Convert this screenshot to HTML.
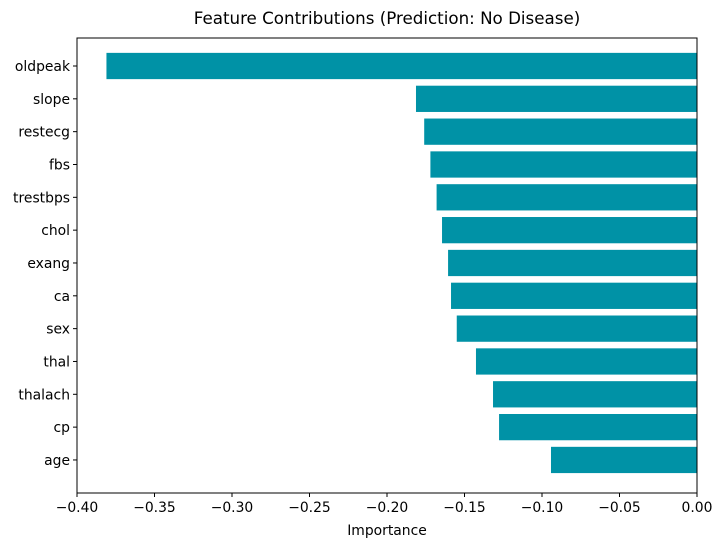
<!DOCTYPE html>
<html><head><meta charset="utf-8"><style>
body{margin:0;background:#fff;font-family:"Liberation Sans","DejaVu Sans",sans-serif;}
</style></head><body>
<svg id="chart" width="722" height="547" xmlns="http://www.w3.org/2000/svg" font-family="DejaVu Sans, Liberation Sans, sans-serif">
<text x="387" y="24" text-anchor="middle" font-size="16.7" fill="#000">Feature Contributions (Prediction: No Disease)</text>
<text x="387" y="535" text-anchor="middle" font-size="13.9" fill="#000">Importance</text>
</svg>
<script>
const features = ["oldpeak","slope","restecg","fbs","trestbps","chol","exang","ca","sex","thal","thalach","cp","age"];
const values = [-0.381,-0.1813,-0.176,-0.172,-0.168,-0.1645,-0.1606,-0.1587,-0.155,-0.1426,-0.1316,-0.1277,-0.0942];
const xTicks = [-0.40,-0.35,-0.30,-0.25,-0.20,-0.15,-0.10,-0.05,0.00];
const xTickLabels = ["\u22120.40","\u22120.35","\u22120.30","\u22120.25","\u22120.20","\u22120.15","\u22120.10","\u22120.05","0.00"];

const svg = document.getElementById('chart');
const NS = "http://www.w3.org/2000/svg";
const L=77, R=697, T=38, B=493;
const xMin=-0.40, xMax=0.0;
const x = v => L + (v - xMin)/(xMax - xMin)*(R-L);
const step = 32.83, first = 66;
const y = i => first + i*step;
const bh = step*0.8;
function mk(tag, attrs){const e=document.createElementNS(NS,tag);for(const k in attrs)e.setAttribute(k,attrs[k]);svg.appendChild(e);return e;}

features.forEach((f,i)=>{
  const x0=x(values[i]), x1=x(0);
  const r=mk('rect',{x:Math.min(x0,x1),y:y(i)-bh/2,width:Math.abs(x1-x0),height:bh,fill:'#0092A6'});
  
  
  const t=mk('line',{x1:L-4,x2:L,y1:y(i),y2:y(i),stroke:'#000','stroke-width':1});
  
  
  const lb=mk('text',{x:L-7,y:y(i)+5,'text-anchor':'end','font-size':13.9,fill:'#000'});
  lb.textContent=f;
  
  
});
xTicks.forEach((v,i)=>{
  const t=mk('line',{x1:x(v),x2:x(v),y1:B,y2:B+4,stroke:'#000','stroke-width':1});
  
  
  const lb=mk('text',{x:x(v),y:B+19,'text-anchor':'middle','font-size':13.9,fill:'#000'});
  lb.textContent=xTickLabels[i];
  
  
});
const frame=mk('rect',{x:L,y:T,width:R-L,height:B-T,fill:'none',stroke:'#000','stroke-width':1});


</script>
</body></html>
